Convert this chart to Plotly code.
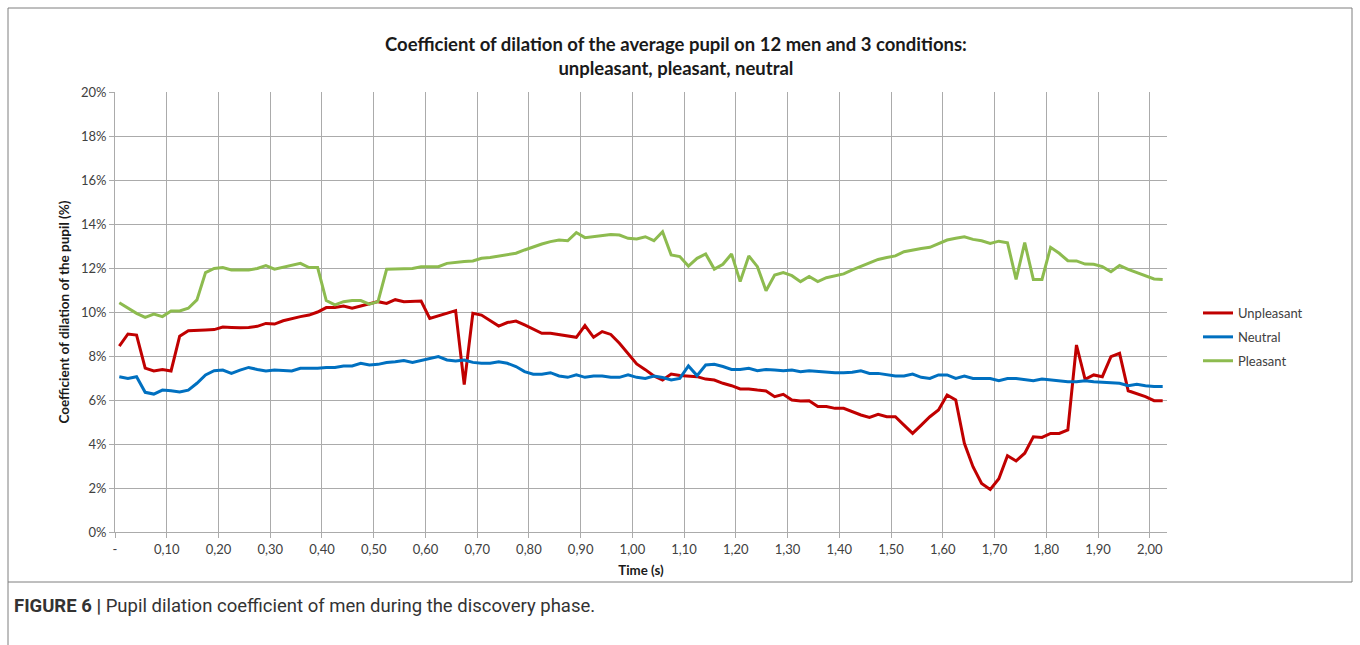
import plotly.graph_objects as go

# samples recorded at 60 Hz, values in %
unpleasant = [8.45, 9.0, 8.95, 7.45, 7.32, 7.38, 7.32, 8.9, 9.15, 9.15,
              9.18, 9.2, 9.32, 9.3, 9.28, 9.3, 9.35, 9.48, 9.45, 9.6,
              9.71, 9.79, 9.86, 10.0, 10.2, 10.2, 10.27, 10.17, 10.27, 10.38,
              10.47, 10.39, 10.56, 10.47, 10.5, 10.5, 9.71, 9.82, 9.94, 10.06,
              6.7, 9.94, 9.86, 9.6, 9.36, 9.52, 9.59, 9.41, 9.21, 9.03,
              9.03, 8.98, 8.91, 8.85, 9.38, 8.85, 9.11, 8.98, 8.58, 8.12,
              7.64, 7.38, 7.09, 6.91, 7.18, 7.11, 7.09, 7.06, 6.95, 6.91,
              6.76, 6.65, 6.5, 6.5, 6.45, 6.41, 6.15, 6.26, 6.0, 5.95,
              5.97, 5.7, 5.7, 5.62, 5.62, 5.47, 5.32, 5.21, 5.35, 5.24,
              5.24, 4.86, 4.48, 4.86, 5.24, 5.55, 6.23, 6.0, 4.03, 2.97,
              2.21, 1.93, 2.42, 3.47, 3.23, 3.58, 4.33, 4.3, 4.48, 4.48,
              4.64, 8.5, 6.94, 7.14, 7.06, 7.97, 8.12, 6.42, 6.3, 6.15,
              5.97, 5.97]

neutral = [7.06, 6.98, 7.06, 6.35, 6.27, 6.45, 6.42, 6.36, 6.45, 6.76,
           7.14, 7.33, 7.36, 7.21, 7.36, 7.48, 7.39, 7.32, 7.36, 7.34,
           7.32, 7.44, 7.44, 7.44, 7.48, 7.48, 7.55, 7.55, 7.67, 7.59,
           7.62, 7.7, 7.74, 7.79, 7.71, 7.79, 7.89, 7.97, 7.82, 7.77,
           7.82, 7.71, 7.67, 7.67, 7.74, 7.67, 7.52, 7.29, 7.17, 7.17,
           7.24, 7.09, 7.03, 7.14, 7.03, 7.09, 7.09, 7.03, 7.03, 7.14,
           7.03, 6.98, 7.09, 7.02, 6.91, 6.98, 7.55, 7.11, 7.59, 7.62,
           7.52, 7.39, 7.39, 7.44, 7.33, 7.39, 7.36, 7.33, 7.36, 7.29,
           7.33, 7.29, 7.27, 7.24, 7.24, 7.26, 7.33, 7.21, 7.21, 7.14,
           7.09, 7.09, 7.18, 7.03, 6.98, 7.14, 7.14, 6.98, 7.09, 6.98,
           6.98, 6.98, 6.88, 6.98, 6.98, 6.94, 6.88, 6.95, 6.91, 6.88,
           6.83, 6.83, 6.88, 6.83, 6.8, 6.79, 6.76, 6.65, 6.71, 6.65,
           6.61, 6.61]

pleasant = [10.42, 10.17, 9.94, 9.76, 9.91, 9.79, 10.05, 10.05, 10.17, 10.55,
            11.79, 11.98, 12.02, 11.91, 11.91, 11.91, 11.98, 12.11, 11.95, 12.04,
            12.11, 12.21, 12.02, 12.02, 10.52, 10.32, 10.47, 10.52, 10.52, 10.36,
            10.47, 11.94, 11.95, 11.95, 11.98, 12.06, 12.06, 12.06, 12.21, 12.27,
            12.3, 12.32, 12.44, 12.48, 12.55, 12.59, 12.67, 12.82, 12.97, 13.09,
            13.2, 13.27, 13.24, 13.61, 13.38, 13.42, 13.47, 13.52, 13.5, 13.35,
            13.32, 13.42, 13.24, 13.65, 12.59, 12.52, 12.09, 12.44, 12.64, 11.95,
            12.17, 12.64, 11.38, 12.55, 12.06, 10.97, 11.68, 11.79, 11.65, 11.38,
            11.61, 11.38, 11.56, 11.64, 11.73, 11.91, 12.06, 12.21, 12.39, 12.48,
            12.55, 12.74, 12.82, 12.89, 12.94, 13.12, 13.27, 13.35, 13.42, 13.3,
            13.24, 13.12, 13.22, 13.15, 11.48, 13.15, 11.48, 11.48, 12.94, 12.67,
            12.33, 12.32, 12.18, 12.17, 12.06, 11.83, 12.11, 11.94, 11.79, 11.64,
            11.5, 11.48]

time = [i / 60 for i in range(len(unpleasant))]

tick_text = ["-", "0,10", "0,20", "0,30", "0,40", "0,50", "0,60", "0,70",
             "0,80", "0,90", "1,00", "1,10", "1,20", "1,30", "1,40", "1,50",
             "1,60", "1,70", "1,80", "1,90", "2,00"]
# excel category axis: ticks sit between samples
tick_vals = [k / 10 - 1 / 120 for k in range(len(tick_text))]

W, H = 1360, 645
L, R, T, B = 115, 1167, 92, 532


def px(x):
    return (x - L) / (R - L)


def py(y):
    return (B - y) / (B - T)


fig = go.Figure()
series = [("Unpleasant", unpleasant, "#C00000"),
          ("Neutral", neutral, "#0070C0"),
          ("Pleasant", pleasant, "#8DBB4F")]
for name, vals, col in series:
    fig.add_trace(go.Scatter(x=time, y=vals, mode="lines", name=name,
                             legendgroup=name,
                             line=dict(color=col, width=3)))

grid = "#ABABAB"
fig.update_layout(
    width=W, height=H,
    margin=dict(l=L, r=W - R, t=T, b=H - B),
    paper_bgcolor="white", plot_bgcolor="white",
    font=dict(family="Lato", size=13, color="#404040"),
    title=dict(text="Coefficient of dilation of the average pupil on 12 men and 3 conditions:<br>unpleasant, pleasant, neutral",
               x=0.497, xref="container", xanchor="center",
               y=1 - 51 / H, yref="container", yanchor="middle",
               font=dict(family="Lato", size=18.5, color="#1a1a1a", weight="bold")),
    xaxis=dict(range=[-1 / 120, (len(time) - 0.5) / 60],
               tickvals=tick_vals, ticktext=tick_text,
               showgrid=True, gridcolor=grid, gridwidth=1,
               showline=True, linecolor=grid, linewidth=1,
               ticks="outside", ticklen=5, tickcolor=grid,
               tickfont=dict(size=13, color="#404040"),
               zeroline=False,
               title=dict(text="<b>Time (s)</b>", standoff=10,
                          font=dict(size=13.3, color="#1a1a1a"))),
    yaxis=dict(range=[0, 20], dtick=2, ticksuffix="%",
               showgrid=True, gridcolor=grid, gridwidth=1,
               showline=True, linecolor=grid, linewidth=1,
               ticks="outside", ticklen=5, tickcolor=grid,
               tickfont=dict(size=13, color="#404040"),
               zeroline=False,
               title=dict(text="<b>Coefficient of dilation of the pupil (%)</b>", standoff=8,
                          font=dict(size=13.5, color="#1a1a1a"))),
    legend=dict(x=px(1198), y=py(337), xanchor="left", yanchor="middle",
                font=dict(size=13, color="#404040"),
                tracegroupgap=4, itemwidth=30, bgcolor="rgba(0,0,0,0)"),
    showlegend=True,
)

# frame around the chart and caption
frame = dict(color="#7f7f7f", width=1)
fig.add_shape(type="line", xref="paper", yref="paper",
              x0=px(8), x1=px(1352), y0=py(8), y1=py(8), line=frame)
fig.add_shape(type="line", xref="paper", yref="paper",
              x0=px(8), x1=px(8), y0=py(8), y1=py(645), line=frame)
fig.add_shape(type="line", xref="paper", yref="paper",
              x0=px(1352), x1=px(1352), y0=py(8), y1=py(582), line=frame)
fig.add_shape(type="line", xref="paper", yref="paper",
              x0=px(8), x1=px(1352), y0=py(582), y1=py(582), line=frame)

fig.add_annotation(text="<b>FIGURE 6 |</b> Pupil dilation coefficient of men during the discovery phase.",
                   xref="paper", yref="paper", x=px(12), y=py(606),
                   xanchor="left", yanchor="middle", showarrow=False,
                   font=dict(family="Roboto", size=18.5, color="#333333"))

fig.write_html("out.html", config={"displayModeBar": False},
               post_script="document.body.style.margin='0px';")
